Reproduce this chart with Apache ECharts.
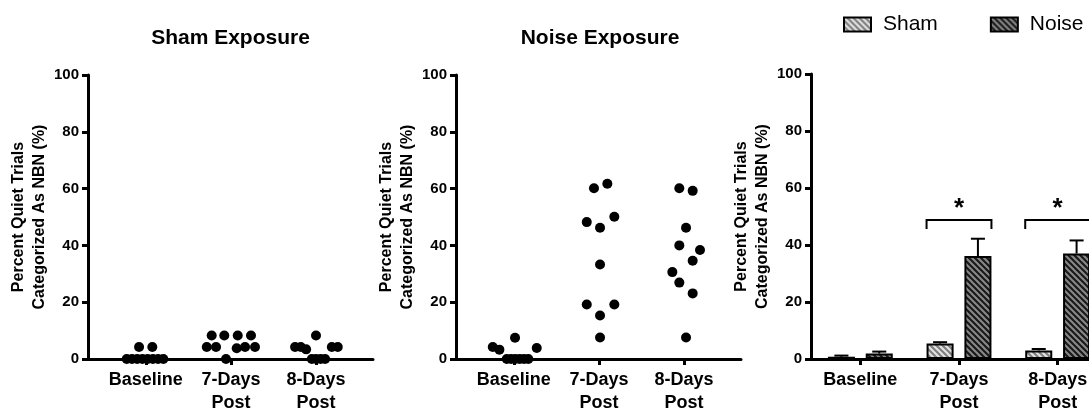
<!DOCTYPE html>
<html>
<head>
<meta charset="utf-8">
<script src="https://cdn.jsdelivr.net/npm/echarts@6/dist/echarts.min.js"></script>
<style>
html,body{margin:0;padding:0;background:#fff;overflow:hidden;}
#chart{width:1089px;height:408px;}
</style>
</head>
<body>
<div id="chart"></div>
<script>
// ---------- DATA ----------
const categories = ['Baseline', '7-Days\nPost', '8-Days\nPost'];
const panelTitles = ['Sham Exposure', 'Noise Exposure'];
const yAxisTitle = 'Percent Quiet Trials\nCategorized As NBN (%)';
const seriesNames = ['Sham', 'Noise'];

// Sham exposure individual points (value, horizontal jitter in category units)
const shamBaselineVals   = [0, 0, 0, 0, 0, 0, 0, 0, 4.2, 4.2];
const shamBaselineJitter = [-0.225, -0.163, -0.102, -0.040, 0.021, 0.083, 0.144, 0.206, -0.08, 0.076];
const sham7Vals   = [8.3, 8.3, 8.3, 8.3, 4.2, 4.2, 3.8, 4.2, 4.2, 0];
const sham7Jitter = [-0.226, -0.078, 0.08, 0.236, -0.284, -0.175, 0.068, 0.166, 0.283, -0.058];
const sham8Vals   = [8.3, 4.2, 4.2, 3.4, 4.2, 4.2, 0, 0, 0, 0];
const sham8Jitter = [0, -0.246, -0.179, -0.116, 0.186, 0.256, -0.049, 0.001, 0.054, 0.107];

// Noise exposure individual points
const noiseBaselineVals   = [4.2, 3.3, 7.5, 3.9, 0, 0, 0, 0, 0, 0];
const noiseBaselineJitter = [-0.248, -0.17, 0.014, 0.269, -0.083, -0.032, 0.018, 0.069, 0.12, 0.17];
const noise7Vals   = [60.1, 61.7, 48.2, 46.2, 50.1, 33.3, 19.2, 19.2, 15.3, 7.6];
const noise7Jitter = [-0.058, 0.099, -0.143, 0.013, 0.181, 0.013, -0.143, 0.181, 0.013, 0.013];
const noise8Vals   = [60.1, 59.2, 46.2, 40.0, 38.4, 34.6, 30.6, 26.9, 23.1, 7.6];
const noise8Jitter = [-0.055, 0.102, 0.024, -0.055, 0.188, 0.102, -0.137, -0.055, 0.102, 0.024];

// Group means and SEM (right panel)
const shamMean  = [0.8, 5.4, 3.0];
const shamSem   = [0.4, 0.5, 0.5];
const noiseMean = [1.9, 36.1, 37.0];
const noiseSem  = [0.7, 6.1, 4.6];

// Significance brackets
const sigLevel = [null, 48.8, 48.8];
const sigLabel = ['', '*', '*'];

// ---------- STYLE ----------
const FONT = '"Liberation Sans", Arial, Helvetica, sans-serif';
const BAR_FRAC = 0.274;   // bar width as fraction of category band
const BAR_GAP = 0.4;      // gap between bars as fraction of bar width

function makePattern(bg, stripe) {
  const s = 6;
  const c = document.createElement('canvas');
  c.width = s; c.height = s;
  const g = c.getContext('2d');
  g.fillStyle = bg; g.fillRect(0, 0, s, s);
  g.strokeStyle = stripe; g.lineWidth = 2;
  g.beginPath();
  g.moveTo(-1, -1); g.lineTo(s + 1, s + 1);
  g.moveTo(-s - 1, -1); g.lineTo(1, s + 1);
  g.moveTo(s - 1, -1); g.lineTo(2 * s + 1, s + 1);
  g.stroke();
  return c;
}
const shamPattern = {image: makePattern('#808080', '#e4e4e4'), repeat: 'repeat'};
const noisePattern = {image: makePattern('#1a1a1a', '#8a8a8a'), repeat: 'repeat'};

function pts(vals, jit, cat) {
  return vals.map((v, i) => [cat + 1 + jit[i], v]);
}
const shamPoints = [].concat(
  pts(shamBaselineVals, shamBaselineJitter, 0),
  pts(sham7Vals, sham7Jitter, 1),
  pts(sham8Vals, sham8Jitter, 2));
const noisePoints = [].concat(
  pts(noiseBaselineVals, noiseBaselineJitter, 0),
  pts(noise7Vals, noise7Jitter, 1),
  pts(noise8Vals, noise8Jitter, 2));

const axisLineStyle = {color: '#000', width: 3};
function yAx(gi) {
  return {
    gridIndex: gi, type: 'value', min: 0, max: 100, interval: 20,
    axisLine: {show: true, lineStyle: axisLineStyle},
    axisTick: {show: true, length: 6, lineStyle: {color: '#000', width: 3}},
    splitLine: {show: false},
    axisLabel: {color: '#000', fontFamily: FONT, fontWeight: 'bold', fontSize: 15, margin: 9},
    name: yAxisTitle, nameLocation: 'middle', nameGap: 34,
    nameTextStyle: {color: '#000', fontFamily: FONT, fontWeight: 'bold', fontSize: 16, lineHeight: 21}
  };
}
const xLabelStyle = {color: '#000', fontFamily: FONT, fontWeight: 'bold', fontSize: 18, lineHeight: 23, margin: 10};
function xValAx(gi) {
  return {
    gridIndex: gi, type: 'value', min: 0.32, max: 3.67,
    axisLine: {show: true, onZero: false, lineStyle: axisLineStyle},
    axisTick: {show: true, length: 6, customValues: [1, 2, 3], lineStyle: {color: '#000', width: 3}},
    splitLine: {show: false},
    axisLabel: Object.assign({customValues: [1, 2, 3], formatter: v => categories[Math.round(v) - 1]}, xLabelStyle)
  };
}

function errorRender(sign) {
  return function (params, api) {
    const cat = api.value(0), mean = api.value(1), top = api.value(2);
    const band = api.size([1, 0])[0];
    const off = sign * band * BAR_FRAC * (1 + BAR_GAP) / 2;
    const p0 = api.coord([cat, mean]);
    const p1 = api.coord([cat, top]);
    const x = p0[0] + off;
    const cap = band * BAR_FRAC * 0.52 / 2;
    const st = {stroke: '#000', lineWidth: 2};
    return {type: 'group', children: [
      {type: 'line', shape: {x1: x, y1: p0[1], x2: x, y2: p1[1]}, style: st},
      {type: 'line', shape: {x1: x - cap, y1: p1[1], x2: x + cap, y2: p1[1]}, style: st}
    ]};
  };
}
function bracketRender(params, api) {
  const cat = api.value(0), lvl = api.value(1);
  const band = api.size([1, 0])[0];
  const half = band * BAR_FRAC * (1 + BAR_GAP / 2);
  const p = api.coord([cat, lvl]);
  const drop = api.size([0, 3.2])[1];
  const st = {stroke: '#000', lineWidth: 2, fill: null};
  const starY = api.coord([cat, lvl + 4])[1];
  return {type: 'group', children: [
    {type: 'polyline', shape: {points: [[p[0] - half, p[1] + drop], [p[0] - half, p[1]], [p[0] + half, p[1]], [p[0] + half, p[1] + drop]]}, style: st},
    {type: 'text', x: p[0], y: starY, style: {text: sigLabel[cat], fontFamily: FONT, fontWeight: 'bold', fontSize: 26, fill: '#000', align: 'center', verticalAlign: 'middle'}}
  ]};
}

const titleStyle = {fontFamily: FONT, fontWeight: 'bold', fontSize: 21, color: '#000'};
const option = {
  animation: false,
  backgroundColor: '#fff',
  title: [
    {text: panelTitles[0], left: 230.5, top: 28, padding: 0, textAlign: 'center', textStyle: titleStyle},
    {text: panelTitles[1], left: 600, top: 28, padding: 0, textAlign: 'center', textStyle: titleStyle}
  ],
  legend: {
    data: seriesNames, left: 843, top: 14, padding: 0, itemWidth: 27, itemHeight: 14, itemGap: 52,
    icon: 'rect',
    textStyle: {fontFamily: FONT, fontSize: 21, color: '#000', padding: [0, 0, 0, 7]}
  },
  grid: [
    {left: 88, top: 75, width: 285, height: 284, outerBoundsMode: 'none', containLabel: false},
    {left: 456, top: 75, width: 285, height: 284, outerBoundsMode: 'none', containLabel: false},
    {left: 811, top: 74, width: 296, height: 285, outerBoundsMode: 'none', containLabel: false}
  ],
  xAxis: [
    xValAx(0), xValAx(1),
    {gridIndex: 2, type: 'category', data: categories, boundaryGap: true,
     axisLine: {show: true, lineStyle: axisLineStyle},
     axisTick: {show: true, alignWithLabel: true, length: 6, lineStyle: {color: '#000', width: 3}},
     axisLabel: Object.assign({interval: 0}, xLabelStyle)}
  ],
  yAxis: [yAx(0), yAx(1), yAx(2)],
  series: [
    {type: 'scatter', name: 'shamPts', xAxisIndex: 0, yAxisIndex: 0, data: shamPoints, symbolSize: 10, itemStyle: {color: '#000', opacity: 1}, z: 3},
    {type: 'scatter', name: 'noisePts', xAxisIndex: 1, yAxisIndex: 1, data: noisePoints, symbolSize: 10, itemStyle: {color: '#000', opacity: 1}, z: 3},
    {type: 'bar', name: seriesNames[0], xAxisIndex: 2, yAxisIndex: 2, data: shamMean,
     barWidth: (BAR_FRAC * 100) + '%', barGap: (BAR_GAP * 100) + '%',
     itemStyle: {color: shamPattern, borderColor: '#000', borderWidth: 2}},
    {type: 'bar', name: seriesNames[1], xAxisIndex: 2, yAxisIndex: 2, data: noiseMean,
     barWidth: (BAR_FRAC * 100) + '%', barGap: (BAR_GAP * 100) + '%',
     itemStyle: {color: noisePattern, borderColor: '#000', borderWidth: 2}},
    {type: 'custom', name: 'shamErr', xAxisIndex: 2, yAxisIndex: 2, renderItem: errorRender(-1),
     data: shamMean.map((m, i) => [i, m, m + shamSem[i]]), z: 4, clip: false},
    {type: 'custom', name: 'noiseErr', xAxisIndex: 2, yAxisIndex: 2, renderItem: errorRender(1),
     data: noiseMean.map((m, i) => [i, m, m + noiseSem[i]]), z: 4, clip: false},
    {type: 'custom', name: 'sig', xAxisIndex: 2, yAxisIndex: 2, renderItem: bracketRender,
     data: sigLevel.map((v, i) => [i, v]).filter(d => d[1] != null),
     z: 4, clip: false}
  ]
};

const chart = echarts.init(document.getElementById('chart'), null, {renderer: 'canvas'});
chart.setOption(option);
</script>
</body>
</html>
